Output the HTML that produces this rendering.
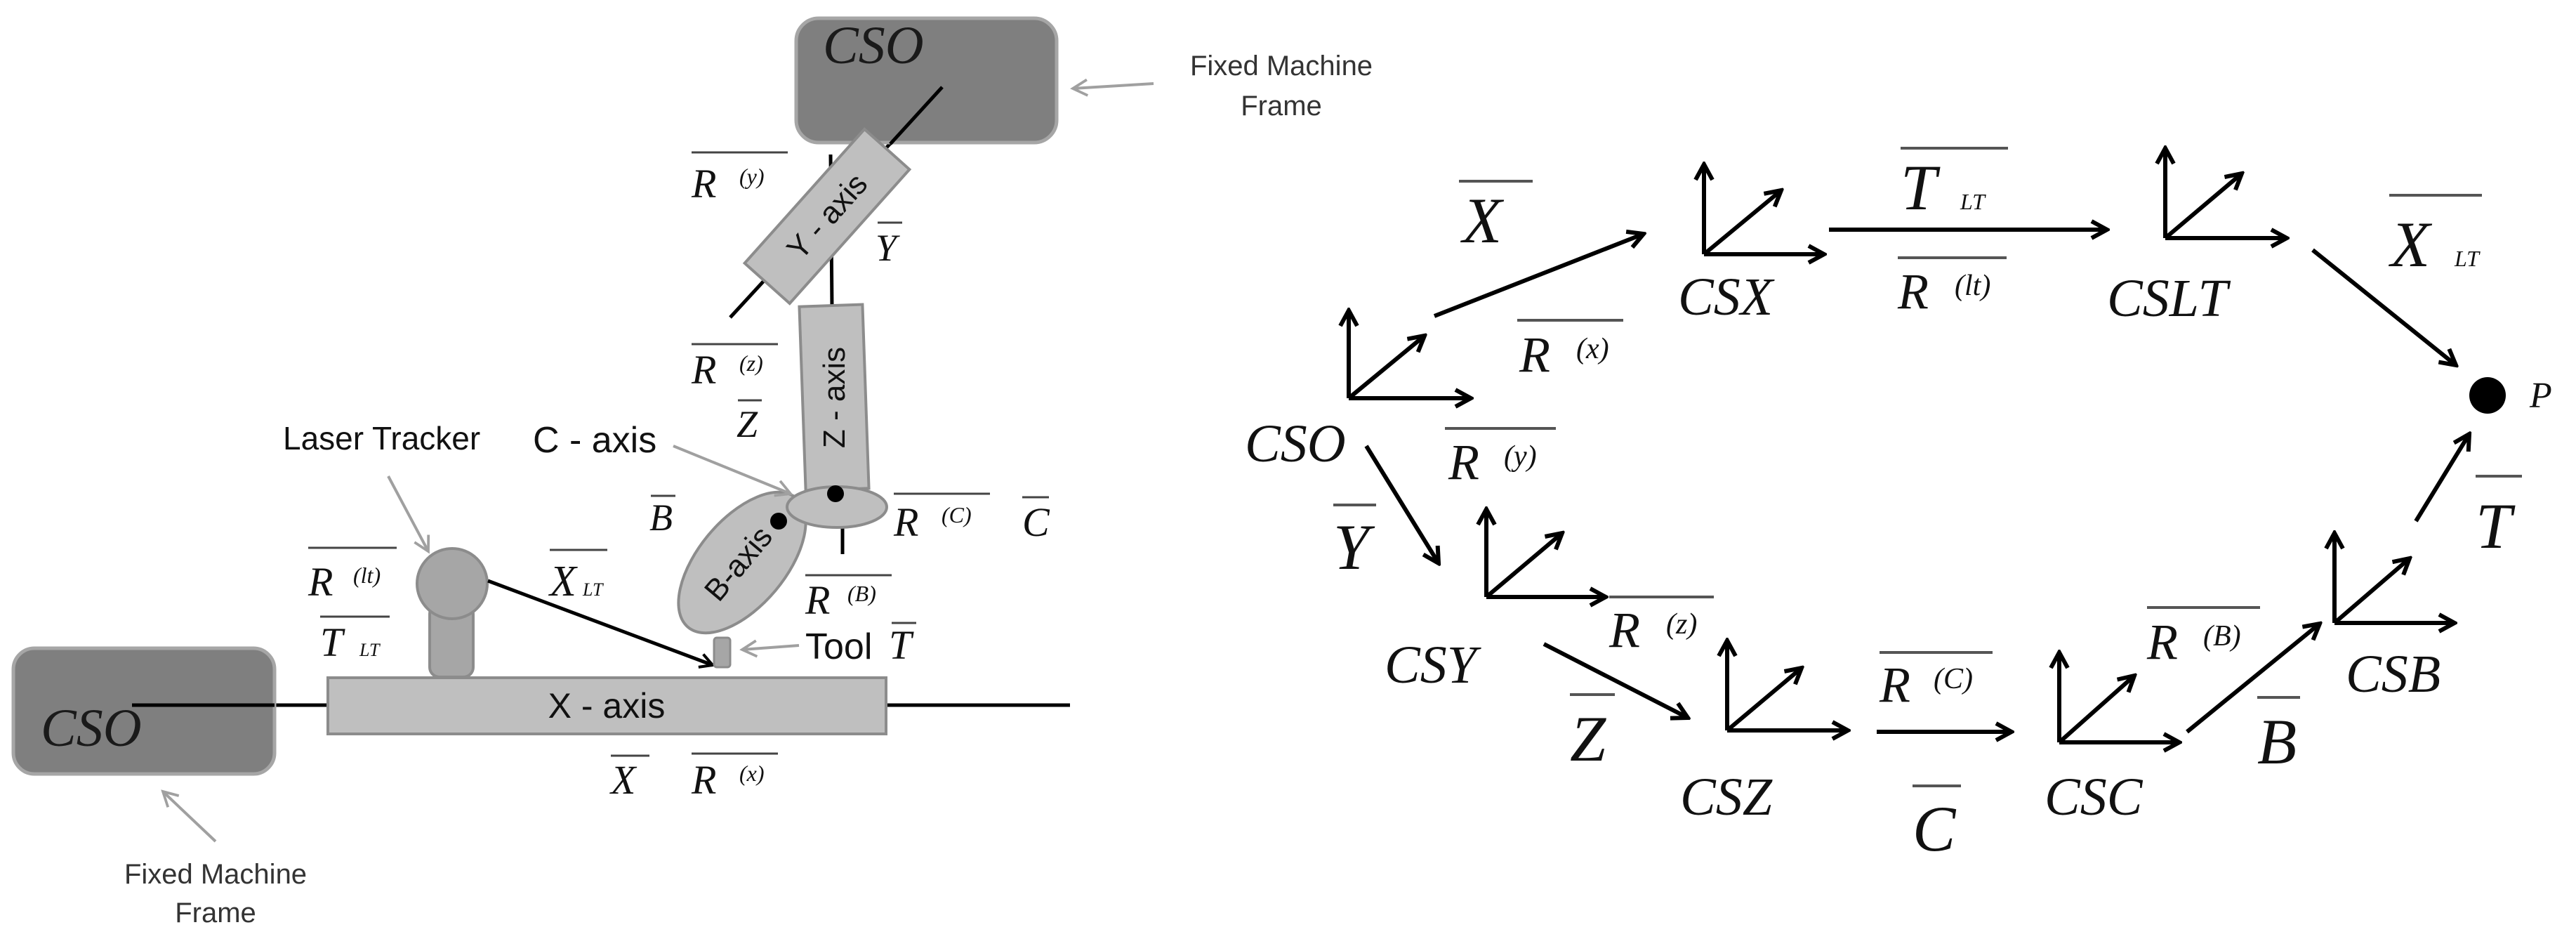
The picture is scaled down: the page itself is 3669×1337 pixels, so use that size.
<!DOCTYPE html>
<html><head><meta charset="utf-8"><style>html,body{margin:0;padding:0;background:#fff}svg{display:block}</style></head>
<body>
<svg xmlns="http://www.w3.org/2000/svg" width="3669" height="1337" viewBox="0 0 3669 1337">
<defs>
<marker id="ab" viewBox="0 0 32 32" markerWidth="32" markerHeight="32" refX="28" refY="16" orient="auto" markerUnits="userSpaceOnUse">
<path d="M6,4 L28,16 L6,28" fill="none" stroke="#000" stroke-width="6" stroke-linejoin="miter"/></marker>
<marker id="ab2" viewBox="0 0 32 32" markerWidth="26" markerHeight="26" refX="28" refY="16" orient="auto" markerUnits="userSpaceOnUse">
<path d="M6,4 L28,16 L6,28" fill="none" stroke="#000" stroke-width="5"/></marker>
<marker id="ag" viewBox="0 0 32 32" markerWidth="30" markerHeight="30" refX="28" refY="16" orient="auto" markerUnits="userSpaceOnUse">
<path d="M6,4 L28,16 L6,28" fill="none" stroke="#a0a0a0" stroke-width="4"/></marker>
</defs>

<!-- LEFT PANEL -->
<g stroke-linecap="butt">
<line x1="1342" y1="124" x2="1040" y2="452" stroke="#000" stroke-width="5"/>
<line x1="1183" y1="220" x2="1185" y2="438" stroke="#000" stroke-width="5"/>
<line x1="188" y1="1004" x2="1524" y2="1004" stroke="#000" stroke-width="5"/>
<line x1="1200" y1="745" x2="1200" y2="789" stroke="#000" stroke-width="5"/>
</g>
<rect x="1134" y="26" width="371" height="177" rx="32" fill="#7f7f7f" stroke="#a6a6a6" stroke-width="5"/>
<line x1="1342" y1="124" x2="1268" y2="205" stroke="#000" stroke-width="5"/>
<text x="1172" y="90" font-family="Liberation Serif" font-style="italic" font-size="76" fill="#1a1a1a">CSO</text>
<rect x="19" y="923" width="372" height="179" rx="30" fill="#7f7f7f" stroke="#a6a6a6" stroke-width="5"/>
<line x1="188" y1="1004" x2="391" y2="1004" stroke="#000" stroke-width="5"/>
<text x="58" y="1062" font-family="Liberation Serif" font-style="italic" font-size="76" fill="#1a1a1a">CSO</text>

<g transform="translate(1178,308) rotate(-48.2)">
<rect x="-128" y="-43" width="256" height="86" fill="#bfbfbf" stroke="#8c8c8c" stroke-width="4"/>
<text x="0" y="15" text-anchor="middle" font-family="Liberation Sans" font-size="44" fill="#111">Y - axis</text>
</g>
<g transform="translate(1188,566) rotate(-2)">
<rect x="-45" y="-131" width="90" height="262" fill="#bfbfbf" stroke="#8c8c8c" stroke-width="4"/>
<text transform="rotate(-88)" x="0" y="15" text-anchor="middle" font-family="Liberation Sans" font-size="44" fill="#111">Z - axis</text>
</g>
<rect x="467" y="965" width="795" height="80" fill="#bfbfbf" stroke="#8c8c8c" stroke-width="4"/>
<text x="864" y="1022" text-anchor="middle" font-family="Liberation Sans" font-size="50" fill="#111">X - axis</text>

<!-- laser tracker -->
<rect x="612" y="860" width="62" height="104" rx="14" fill="#a6a6a6" stroke="#8c8c8c" stroke-width="4"/>
<circle cx="644" cy="831" r="50" fill="#a6a6a6" stroke="#8c8c8c" stroke-width="4"/>
<line x1="695" y1="827" x2="1015" y2="947" stroke="#000" stroke-width="5" marker-end="url(#ab2)"/>

<!-- B / C axes -->
<ellipse cx="1057" cy="801" rx="120" ry="62" transform="rotate(-50 1057 801)" fill="#bfbfbf" stroke="#8c8c8c" stroke-width="4"/>
<text transform="translate(1063,812) rotate(-50)" x="0" y="0" text-anchor="middle" font-family="Liberation Sans" font-size="44" fill="#111">B-axis</text>
<ellipse cx="1192" cy="722" rx="71" ry="29" fill="#bfbfbf" stroke="#8c8c8c" stroke-width="4"/>
<circle cx="1190" cy="703" r="12" fill="#000"/>
<circle cx="1109" cy="742" r="12" fill="#000"/>
<rect x="1017" y="908" width="23" height="42" rx="4" fill="#a6a6a6" stroke="#8c8c8c" stroke-width="3"/>

<!-- gray callouts -->
<g stroke="#a0a0a0" stroke-width="4" fill="none">
<line x1="1643" y1="119" x2="1528" y2="126" marker-end="url(#ag)"/>
<line x1="307" y1="1198" x2="232" y2="1127" marker-end="url(#ag)"/>
<line x1="553" y1="678" x2="610" y2="785" marker-end="url(#ag)"/>
<line x1="959" y1="635" x2="1126" y2="703" marker-end="url(#ag)"/>
<line x1="1138" y1="919" x2="1057" y2="925" marker-end="url(#ag)"/>
</g>
<g font-family="Liberation Sans" fill="#333" font-size="40" text-anchor="middle">
<text x="1825" y="107">Fixed Machine</text><text x="1825" y="164">Frame</text>
<text x="307" y="1258">Fixed Machine</text><text x="307" y="1313">Frame</text>
</g>
<g font-family="Liberation Sans" fill="#111">
<text x="403" y="640" font-size="46">Laser Tracker</text>
<text x="759" y="644" font-size="52">C - axis</text>
<text x="1147" y="938" font-size="52">Tool</text>
</g>

<!-- left labels -->
<g font-family="Liberation Serif" font-style="italic" fill="#111">
<text x="985" y="281" font-size="58">R</text><text x="1053" y="262" font-size="32">(y)</text>
<text x="1247" y="371" font-size="54">Y</text>
<text x="985" y="546" font-size="58">R</text><text x="1053" y="528" font-size="32">(z)</text>
<text x="1049" y="622" font-size="54">Z</text>
<text x="925" y="755" font-size="54">B</text>
<text x="1273" y="763" font-size="58">R</text><text x="1341" y="744" font-size="32">(C)</text>
<text x="1456" y="763" font-size="58">C</text>
<text x="1147" y="874" font-size="58">R</text><text x="1207" y="856" font-size="32">(B)</text>
<text x="1266" y="938" font-size="58">T</text>
<text x="439" y="848" font-size="58">R</text><text x="503" y="830" font-size="32">(lt)</text>
<text x="456" y="934" font-size="58">T</text><text x="512" y="934" font-size="26">LT</text>
<text x="783" y="848" font-size="62">X</text><text x="830" y="848" font-size="26">LT</text>
<text x="870" y="1130" font-size="58">X</text>
<text x="985" y="1130" font-size="58">R</text><text x="1053" y="1112" font-size="32">(x)</text>
</g>
<g stroke="#444" stroke-width="3">
<line x1="985" y1="217" x2="1122" y2="217"/>
<line x1="1250" y1="317" x2="1285" y2="317"/>
<line x1="985" y1="490" x2="1108" y2="490"/>
<line x1="1051" y1="570" x2="1085" y2="570"/>
<line x1="927" y1="706" x2="962" y2="706"/>
<line x1="1273" y1="703" x2="1410" y2="703"/>
<line x1="1456" y1="708" x2="1494" y2="708"/>
<line x1="1147" y1="819" x2="1270" y2="819"/>
<line x1="1270" y1="887" x2="1305" y2="887"/>
<line x1="439" y1="780" x2="565" y2="780"/>
<line x1="456" y1="878" x2="555" y2="878"/>
<line x1="783" y1="783" x2="865" y2="783"/>
<line x1="870" y1="1076" x2="925" y2="1076"/>
<line x1="985" y1="1073" x2="1108" y2="1073"/>
</g>

<!-- RIGHT PANEL: frames -->
<g stroke="#000" stroke-width="6" fill="none">
<g marker-end="url(#ab)">
<line x1="1921" y1="567" x2="1921" y2="442"/><line x1="1921" y1="567" x2="2095" y2="567"/><line x1="1921" y1="567" x2="2029" y2="478"/>
<line x1="2427" y1="362" x2="2427" y2="234"/><line x1="2427" y1="362" x2="2598" y2="362"/><line x1="2427" y1="362" x2="2537" y2="271"/>
<line x1="3084" y1="339" x2="3084" y2="211"/><line x1="3084" y1="339" x2="3257" y2="339"/><line x1="3084" y1="339" x2="3193" y2="247"/>
<line x1="2117" y1="850" x2="2117" y2="725"/><line x1="2117" y1="850" x2="2287" y2="850"/><line x1="2117" y1="850" x2="2225" y2="759"/>
<line x1="2460" y1="1040" x2="2460" y2="912"/><line x1="2460" y1="1040" x2="2632" y2="1040"/><line x1="2460" y1="1040" x2="2566" y2="951"/>
<line x1="2933" y1="1057" x2="2933" y2="929"/><line x1="2933" y1="1057" x2="3104" y2="1057"/><line x1="2933" y1="1057" x2="3040" y2="962"/>
<line x1="3325" y1="887" x2="3325" y2="759"/><line x1="3325" y1="887" x2="3496" y2="887"/><line x1="3325" y1="887" x2="3432" y2="795"/>
<!-- transitions -->
<line x1="2043" y1="450" x2="2341" y2="333"/>
<line x1="2605" y1="327" x2="3001" y2="327"/>
<line x1="3294" y1="356" x2="3498" y2="520"/>
<line x1="1946" y1="635" x2="2049" y2="802"/>
<line x1="2199" y1="917" x2="2404" y2="1022"/>
<line x1="2673" y1="1042" x2="2865" y2="1042"/>
<line x1="3115" y1="1042" x2="3304" y2="888"/>
<line x1="3441" y1="742" x2="3517" y2="618"/>
</g>
</g>
<circle cx="3543" cy="563" r="26" fill="#000"/>

<g font-family="Liberation Serif" font-style="italic" fill="#111">
<text x="1773" y="657" font-size="76">CSO</text>
<text x="2390" y="448" font-size="76">CSX</text>
<text x="3001" y="450" font-size="76">CSLT</text>
<text x="1972" y="972" font-size="76">CSY</text>
<text x="2393" y="1160" font-size="76">CSZ</text>
<text x="2912" y="1160" font-size="76">CSC</text>
<text x="3341" y="985" font-size="76">CSB</text>
<text x="3603" y="580" font-size="52">P</text>

<text x="2083" y="345" font-size="92">X</text>
<text x="1899" y="810" font-size="92">Y</text>
<text x="2236" y="1083" font-size="92">Z</text>
<text x="2724" y="1211" font-size="92">C</text>
<text x="3215" y="1087" font-size="92">B</text>
<text x="3526" y="780" font-size="92">T</text>
<text x="2707" y="298" font-size="92">T</text><text x="2792" y="298" font-size="32">LT</text>
<text x="3405" y="379" font-size="92">X</text><text x="3496" y="379" font-size="32">LT</text>

<text x="2164" y="529" font-size="72">R</text><text x="2245" y="510" font-size="42">(x)</text>
<text x="2063" y="682" font-size="72">R</text><text x="2142" y="663" font-size="42">(y)</text>
<text x="2292" y="921" font-size="72">R</text><text x="2373" y="902" font-size="42">(z)</text>
<text x="2703" y="439" font-size="72">R</text><text x="2784" y="420" font-size="42">(lt)</text>
<text x="2677" y="999" font-size="72">R</text><text x="2754" y="980" font-size="42">(C)</text>
<text x="3058" y="938" font-size="72">R</text><text x="3138" y="919" font-size="42">(B)</text>
</g>
<g stroke="#555" stroke-width="4">
<line x1="2078" y1="258" x2="2183" y2="258"/>
<line x1="1899" y1="719" x2="1960" y2="719"/>
<line x1="2236" y1="989" x2="2300" y2="989"/>
<line x1="2724" y1="1119" x2="2793" y2="1119"/>
<line x1="3215" y1="993" x2="3276" y2="993"/>
<line x1="3526" y1="678" x2="3592" y2="678"/>
<line x1="2707" y1="211" x2="2860" y2="211"/>
<line x1="3403" y1="278" x2="3535" y2="278"/>
<line x1="2161" y1="456" x2="2312" y2="456"/>
<line x1="2058" y1="610" x2="2216" y2="610"/>
<line x1="2292" y1="850" x2="2441" y2="850"/>
<line x1="2703" y1="367" x2="2858" y2="367"/>
<line x1="2677" y1="929" x2="2838" y2="929"/>
<line x1="3058" y1="865" x2="3219" y2="865"/>
</g>
</svg>
</body></html>
